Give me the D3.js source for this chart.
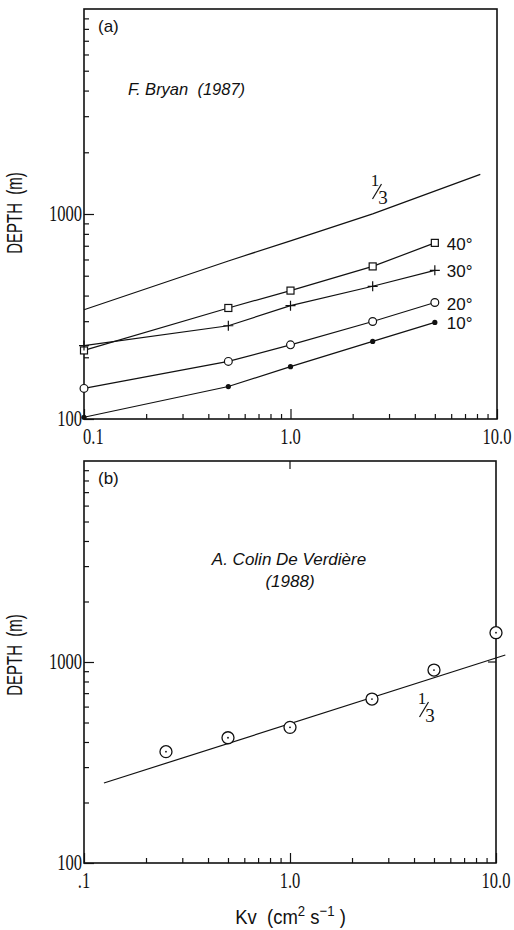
<!DOCTYPE html>
<html>
<head>
<meta charset="utf-8">
<script src="https://cdn.jsdelivr.net/npm/d3@7"></script>
<style>
  html, body { margin: 0; padding: 0; background: #fff; }
  svg { display: block; }
</style>
</head>
<body>
<svg id="fig" width="514" height="930"></svg>
<script>
// Panel (a): thermocline depth (m) against vertical diffusivity Kv (cm^2 s^-1)
const kvA = [0.1, 0.5, 1.0, 2.5, 5.0];
const depth40 = [216, 348, 423, 555, 723];
const depth30 = [228, 285, 357, 444, 531];
const depth20 = [141, 191, 230, 299, 370];
const depth10 = [102, 144, 180, 239, 296];
const latLabels = ["40°", "30°", "20°", "10°"];
// one-third power reference line, panel (a)
const refKvA = [0.1, 0.5, 1.0, 2.5, 8.3];
const refDepthA = [341, 590, 740, 1002, 1560];

// Panel (b)
const kvB = [0.25, 0.5, 1.0, 2.5, 5.0, 10.0];
const depthB = [358, 420, 473, 654, 912, 1399];
const refKvB = [0.125, 11.1];
const refDepthB = [250, 1083];

// Axis labelling
const xMajor = [0.1, 1, 10];
const xLabelsA = ["0.1", "1.0", "10.0"];
const xLabelsB = [".1", "1.0", "10.0"];
const yMajor = [100, 1000];
const yLabels = ["100", "1000"];

const svg = d3.select("#fig");
const INK = "#111";
const serif = "'Liberation Serif', 'Times New Roman', serif";
const sans = "'Liberation Sans', Arial, Helvetica, sans-serif";

function isMajor(list, v) { return list.some(m => Math.abs(m - v) / m < 1e-6); }

function drawPanel(cfg) {
  const x = d3.scaleLog().domain([0.1, 10]).range([cfg.left, cfg.right]);
  const y = d3.scaleLog().domain([100, 10000]).range([cfg.bottom, cfg.top]);
  const g = svg.append("g");

  const minorX = x.ticks().filter(v => !isMajor(xMajor, v));
  const minorY = y.ticks().filter(v => !isMajor(yMajor, v) && v < 10000);

  const axes = [
    [d3.axisBottom(x).tickValues(minorX).tickSize(-5), `translate(0,${cfg.bottom})`],
    [d3.axisBottom(x).tickValues(xMajor).tickSize(-10), `translate(0,${cfg.bottom})`],
    [d3.axisLeft(y).tickValues(minorY).tickSize(-5), `translate(${cfg.left},0)`],
    [d3.axisLeft(y).tickValues(yMajor).tickSize(-10), `translate(${cfg.left},0)`]
  ];
  axes.forEach(([ax, tr]) => {
    const a = g.append("g").attr("transform", tr)
      .call(ax.tickFormat("").tickSizeOuter(0));
    a.select(".domain").remove();
    a.selectAll("line").attr("stroke", INK).attr("stroke-width", 1.2);
  });

  // frame
  g.append("rect")
    .attr("x", cfg.left).attr("y", cfg.top)
    .attr("width", cfg.right - cfg.left).attr("height", cfg.bottom - cfg.top)
    .attr("fill", "none").attr("stroke", INK).attr("stroke-width", 1.6);

  // tick labels in a narrow serif face
  xMajor.forEach((v, i) => {
    const anchor = (cfg.xLabels[i] === "0.1") ? "start" : "middle";
    const px = anchor === "start" ? x(v) - 1 : x(v);
    g.append("text")
      .attr("transform", `translate(${px},${cfg.bottom + 25}) scale(0.72,1)`)
      .attr("text-anchor", anchor)
      .attr("font-family", serif).attr("font-size", 23).attr("fill", INK)
      .text(cfg.xLabels[i]);
  });
  yMajor.forEach((v, i) => {
    g.append("text")
      .attr("transform", `translate(${cfg.left - 2},${y(v) + 7}) scale(0.72,1)`)
      .attr("text-anchor", "end")
      .attr("font-family", serif).attr("font-size", 23).attr("fill", INK)
      .text(yLabels[i]);
  });

  // vertical axis title, narrow sans
  g.append("text")
    .attr("transform", `translate(${cfg.left - 62},${y(1000) + cfg.titleShift}) rotate(-90) scale(0.68,1)`)
    .attr("text-anchor", "middle")
    .attr("font-family", sans).attr("font-size", 22).attr("fill", INK)
    .style("white-space", "pre")
    .text("DEPTH  (m)");

  // panel letter
  g.append("text")
    .attr("x", cfg.left + 14).attr("y", cfg.top + 23)
    .attr("font-family", sans).attr("font-size", 17).attr("fill", INK)
    .text(cfg.letter);

  return { g, x, y };
}

// fraction label "1/3" placed next to a reference line
function oneThird(g, cx, cy) {
  const t = g.append("g").attr("fill", INK).attr("font-family", serif);
  t.append("text").attr("x", cx - 2).attr("y", cy - 6).attr("text-anchor", "middle")
    .attr("font-size", 17).text("1");
  t.append("line")
    .attr("x1", cx - 4.5).attr("y1", cy + 7).attr("x2", cx + 4.5).attr("y2", cy - 8)
    .attr("stroke", INK).attr("stroke-width", 1.2);
  t.append("text").attr("x", cx + 6).attr("y", cy + 12).attr("text-anchor", "middle")
    .attr("font-size", 19).text("3");
}

// ---------- panel (a) ----------
const A = drawPanel({ left: 84, right: 497, top: 9, bottom: 419, letter: "(a)", xLabels: xLabelsA, titleShift: -1 });
{
  const { g, x, y } = A;
  const line = d3.line().x(d => x(d[0])).y(d => y(d[1]));

  g.append("path").datum(d3.zip(refKvA, refDepthA)).attr("d", line)
    .attr("fill", "none").attr("stroke", INK).attr("stroke-width", 1.2);
  oneThird(g, 377, 192);

  const series = [depth40, depth30, depth20, depth10];
  const markers = ["square", "plus", "circle", "dot"];
  series.forEach((ser, si) => {
    const pts = d3.zip(kvA, ser);
    g.append("path").datum(pts).attr("d", line)
      .attr("fill", "none").attr("stroke", INK).attr("stroke-width", 1.2);
    const m = g.append("g");
    pts.forEach(([k, d]) => {
      const px = x(k), py = y(d);
      if (markers[si] === "square") {
        m.append("rect").attr("x", px - 3.5).attr("y", py - 3.5).attr("width", 7).attr("height", 7)
          .attr("fill", "#fff").attr("stroke", INK).attr("stroke-width", 1.2);
      } else if (markers[si] === "plus") {
        m.append("path").attr("d", `M${px - 5},${py}H${px + 5}M${px},${py - 5}V${py + 5}`)
          .attr("stroke", INK).attr("stroke-width", 1.2);
      } else if (markers[si] === "circle") {
        m.append("circle").attr("cx", px).attr("cy", py).attr("r", 3.9)
          .attr("fill", "#fff").attr("stroke", INK).attr("stroke-width", 1.2);
      } else {
        m.append("circle").attr("cx", px).attr("cy", py).attr("r", 2.6).attr("fill", INK);
      }
    });
    const last = pts[pts.length - 1];
    g.append("text")
      .attr("x", x(last[0]) + 12).attr("y", y(last[1]) + 7)
      .attr("font-family", sans).attr("font-size", 17).attr("fill", INK)
      .text(latLabels[si]);
  });

  g.append("text")
    .attr("x", 128).attr("y", 95)
    .attr("font-family", sans).attr("font-style", "italic").attr("font-size", 16.5).attr("fill", INK)
    .style("white-space", "pre")
    .text("F. Bryan  (1987)");
}

// ---------- panel (b) ----------
const B = drawPanel({ left: 84, right: 496, top: 461, bottom: 863, letter: "(b)", xLabels: xLabelsB, titleShift: -7 });
{
  const { g, x, y } = B;
  const line = d3.line().x(d => x(d[0])).y(d => y(d[1]));

  // short ticks at 1.0 on top edge and at 1000 on right edge
  g.append("line").attr("x1", x(1)).attr("x2", x(1)).attr("y1", 461).attr("y2", 469)
    .attr("stroke", INK).attr("stroke-width", 1.2);
  g.append("line").attr("x1", 496).attr("x2", 488).attr("y1", y(1000)).attr("y2", y(1000))
    .attr("stroke", INK).attr("stroke-width", 1.2);

  g.append("path").datum(d3.zip(refKvB, refDepthB)).attr("d", line)
    .attr("fill", "none").attr("stroke", INK).attr("stroke-width", 1.2);
  oneThird(g, 424, 710);

  const pts = d3.zip(kvB, depthB);
  const m = g.append("g");
  pts.forEach(([k, d]) => {
    m.append("circle").attr("cx", x(k)).attr("cy", y(d)).attr("r", 6)
      .attr("fill", "#fff").attr("stroke", INK).attr("stroke-width", 1.3);
    m.append("circle").attr("cx", x(k)).attr("cy", y(d)).attr("r", 0.9).attr("fill", INK);
  });

  g.append("text")
    .attr("x", 289).attr("y", 565).attr("text-anchor", "middle")
    .attr("font-family", sans).attr("font-style", "italic").attr("font-size", 17).attr("fill", INK)
    .text("A. Colin De Verdière");
  g.append("text")
    .attr("x", 290).attr("y", 587).attr("text-anchor", "middle")
    .attr("font-family", sans).attr("font-style", "italic").attr("font-size", 17).attr("fill", INK)
    .text("(1988)");

  // horizontal axis title, narrow sans with superscripts
  const t = g.append("text")
    .attr("transform", "translate(290.5,924) scale(0.88,1)")
    .attr("text-anchor", "middle")
    .attr("font-family", sans).attr("font-size", 21).attr("fill", INK)
    .style("white-space", "pre");
  t.append("tspan").text("Kv  (cm");
  t.append("tspan").attr("dy", -8).attr("font-size", 15).text("2");
  t.append("tspan").attr("dy", 8).text(" s");
  t.append("tspan").attr("dy", -8).attr("font-size", 15).text("−1");
  t.append("tspan").attr("dy", 8).text(" )");
}
</script>
</body>
</html>
